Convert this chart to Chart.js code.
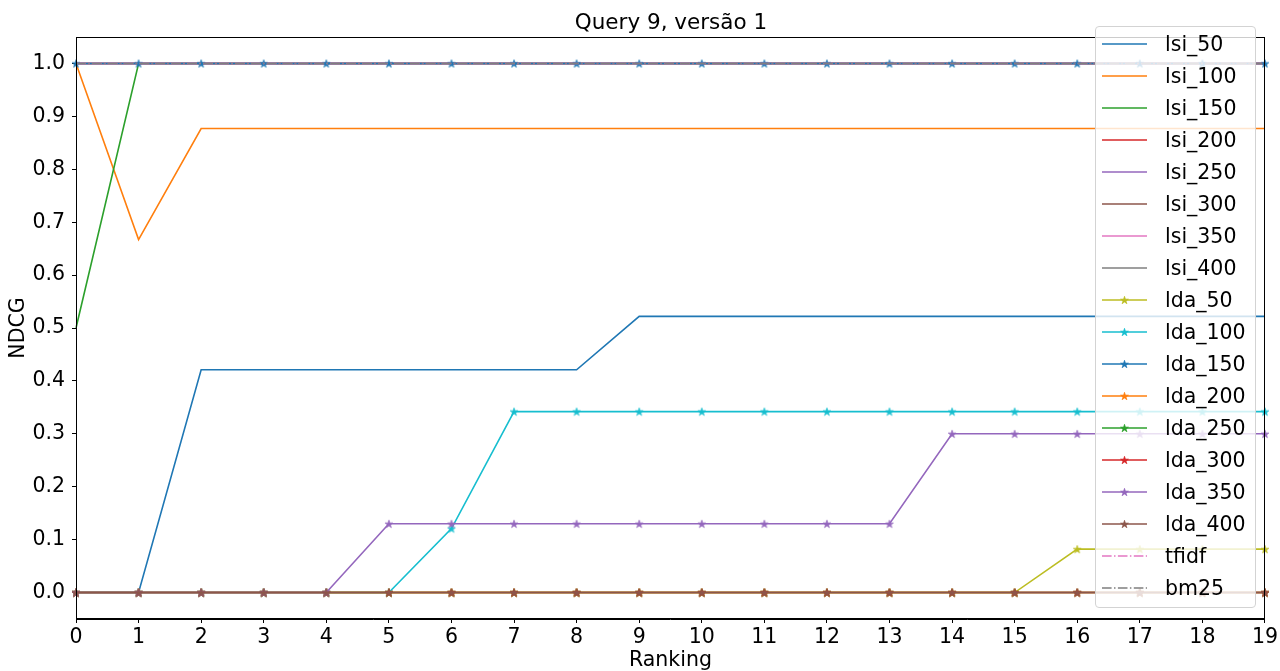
<!DOCTYPE html>
<html>
<head>
<meta charset="utf-8">
<script src="https://cdn.jsdelivr.net/npm/chart.js@4/dist/chart.umd.min.js"></script>
<style>
  html, body { margin: 0; padding: 0; background: #fff; }
  #wrap { position: relative; width: 1280px; height: 671px; overflow: hidden; font-family: "DejaVu Sans", sans-serif; }
  #c { position: absolute; left: 0; top: 0; }
  #title { position: absolute; left: 0; top: 7px; width: 1342px; text-align: center; font-size: 21.5px; line-height: 30px; color: #000; }
  #legend { position: absolute; left: 1095px; top: 26px; width: 161px; height: 582px; box-sizing: border-box;
            border: 1px solid #d3d3d3; border-radius: 4px; background: rgba(255,255,255,0.8); }
  .row { position: absolute; left: 0; width: 160px; height: 32px; }
  .row svg { position: absolute; left: 6px; top: 0; }
  .row span { position: absolute; left: 69px; top: 0; font-size: 20.5px; line-height: 32px; color: #000; white-space: nowrap; }
</style>
</head>
<body>
<div id="wrap">
  <canvas id="c" width="1280" height="671"></canvas>
  <div id="title">Query 9, versão 1</div>
  <div id="legend"></div>
</div>
<script>
// ---- data ----
const ranks = [0,1,2,3,4,5,6,7,8,9,10,11,12,13,14,15,16,17,18,19];
const yTicks = [0.0,0.1,0.2,0.3,0.4,0.5,0.6,0.7,0.8,0.9,1.0];
const seriesNames = ["lsi_50","lsi_100","lsi_150","lsi_200","lsi_250","lsi_300","lsi_350","lsi_400",
                     "lda_50","lda_100","lda_150","lda_200","lda_250","lda_300","lda_350","lda_400","tfidf","bm25"];
const lsi_50  = [0,0,0.421,0.421,0.421,0.421,0.421,0.421,0.421,0.522,0.522,0.522,0.522,0.522,0.522,0.522,0.522,0.522,0.522,0.522];
const lsi_100 = [1.0,0.667,0.877,0.877,0.877,0.877,0.877,0.877,0.877,0.877,0.877,0.877,0.877,0.877,0.877,0.877,0.877,0.877,0.877,0.877];
const lsi_150 = [0.5,1,1,1,1,1,1,1,1,1,1,1,1,1,1,1,1,1,1,1];
const lsi_200 = [1,1,1,1,1,1,1,1,1,1,1,1,1,1,1,1,1,1,1,1];
const lsi_250 = [1,1,1,1,1,1,1,1,1,1,1,1,1,1,1,1,1,1,1,1];
const lsi_300 = [1,1,1,1,1,1,1,1,1,1,1,1,1,1,1,1,1,1,1,1];
const lsi_350 = [1,1,1,1,1,1,1,1,1,1,1,1,1,1,1,1,1,1,1,1];
const lsi_400 = [1,1,1,1,1,1,1,1,1,1,1,1,1,1,1,1,1,1,1,1];
const lda_50  = [0,0,0,0,0,0,0,0,0,0,0,0,0,0,0,0,0.082,0.082,0.082,0.082];
const lda_100 = [0,0,0,0,0,0,0.121,0.342,0.342,0.342,0.342,0.342,0.342,0.342,0.342,0.342,0.342,0.342,0.342,0.342];
const lda_150 = [1,1,1,1,1,1,1,1,1,1,1,1,1,1,1,1,1,1,1,1];
const lda_200 = [0,0,0,0,0,0,0,0,0,0,0,0,0,0,0,0,0,0,0,0];
const lda_250 = [0,0,0,0,0,0,0,0,0,0,0,0,0,0,0,0,0,0,0,0];
const lda_300 = [0,0,0,0,0,0,0,0,0,0,0,0,0,0,0,0,0,0,0,0];
const lda_350 = [0,0,0,0,0,0.130,0.130,0.130,0.130,0.130,0.130,0.130,0.130,0.130,0.300,0.300,0.300,0.300,0.300,0.300];
const lda_400 = [0,0,0,0,0,0,0,0,0,0,0,0,0,0,0,0,0,0,0,0];
const tfidf   = [1,1,1,1,1,1,1,1,1,1,1,1,1,1,1,1,1,1,1,1];
const bm25    = [1,1,1,1,1,1,1,1,1,1,1,1,1,1,1,1,1,1,1,1];

const seriesValues = [lsi_50,lsi_100,lsi_150,lsi_200,lsi_250,lsi_300,lsi_350,lsi_400,
                      lda_50,lda_100,lda_150,lda_200,lda_250,lda_300,lda_350,lda_400,tfidf,bm25];

// ---- styles ----
const C = {blue:"#1f77b4", orange:"#ff7f0e", green:"#2ca02c", red:"#d62728", purple:"#9467bd",
           brown:"#8c564b", pink:"#e377c2", grey:"#7f7f7f", olive:"#bcbd22", cyan:"#17becf"};
const seriesColors = [C.blue,C.orange,C.green,C.red,C.purple,C.brown,C.pink,C.grey,
                      C.olive,C.cyan,C.blue,C.orange,C.green,C.red,C.purple,C.brown,C.pink,C.grey];
const seriesKind = ["line","line","line","line","line","line","line","line",
                    "star","star","star","star","star","star","star","star","dashdot","dashdot"];
const DASHDOT = [9.6, 2.4, 1.5, 2.4];

function starPoints(cx, cy, R) {
  const r = R * 0.382, pts = [];
  for (let i = 0; i < 10; i++) {
    const a = -Math.PI / 2 + i * Math.PI / 5;
    const rad = i % 2 === 0 ? R : r;
    pts.push([cx + rad * Math.cos(a), cy + rad * Math.sin(a)]);
  }
  return pts;
}
function starImage(color) {
  const R = 4.1, s = 10;
  const c = document.createElement('canvas');
  c.width = s; c.height = s;
  const g = c.getContext('2d');
  g.fillStyle = color; g.strokeStyle = color; g.lineWidth = 0.7;
  g.beginPath();
  starPoints(s / 2, s / 2 + 0.4, R).forEach((p, i) => i ? g.lineTo(p[0], p[1]) : g.moveTo(p[0], p[1]));
  g.closePath(); g.fill(); g.stroke();
  return c;
}

const N = seriesNames.length;
const datasets = seriesNames.map((name, i) => {
  const kind = seriesKind[i];
  const ds = {
    label: name,
    data: seriesValues[i],
    borderColor: seriesColors[i],
    backgroundColor: seriesColors[i],
    borderWidth: 1.6,
    tension: 0,
    fill: false,
    order: N - i,
    pointRadius: 0,
    pointHoverRadius: 0
  };
  if (kind === "star") {
    ds.pointStyle = starImage(seriesColors[i]);
    ds.pointRadius = 4;
  }
  if (kind === "dashdot") ds.borderDash = DASHDOT;
  return ds;
});

// frame plugin (matplotlib-style box)
const framePlugin = {
  id: 'frame',
  afterDatasetsDraw(chart) {
    const {ctx, chartArea: a} = chart;
    ctx.save();
    ctx.strokeStyle = '#000';
    ctx.lineWidth = 1;
    ctx.strokeRect(Math.round(a.left) + 0.5, Math.round(a.top) + 0.5, Math.round(a.right - a.left) - 1, Math.round(a.bottom - a.top) - 1);
    ctx.restore();
  }
};

const font20 = {family: "DejaVu Sans", size: 20.5};

new Chart(document.getElementById('c'), {
  type: 'line',
  data: { labels: ranks, datasets },
  options: {
    responsive: false,
    animation: false,
    devicePixelRatio: 1,
    layout: { padding: { top: 37, right: 13, left: 0, bottom: 0 } },
    plugins: { legend: { display: false }, tooltip: { enabled: false }, title: { display: false } },
    events: [],
    scales: {
      x: {
        type: 'category',
        offset: false,
        grid: { display: true, drawOnChartArea: false, drawTicks: true, tickLength: 4, color: '#000', lineWidth: 1 },
        border: { display: true, color: '#000', width: 1 },
        ticks: { font: font20, color: '#000', padding: 2, maxRotation: 0, autoSkip: false },
        title: { display: true, text: 'Ranking', font: font20, color: '#000', padding: { top: 0, bottom: -2 } },
        afterFit(s) { s.height = 52; }
      },
      y: {
        type: 'linear',
        min: -0.05,
        max: 1.05,
        afterBuildTicks(s) { s.ticks = yTicks.map(v => ({ value: v })); },
        grid: { display: true, drawOnChartArea: false, drawTicks: true, tickLength: 4, color: '#000', lineWidth: 1 },
        border: { display: true, color: '#000', width: 1 },
        ticks: { font: font20, color: '#000', padding: 7, callback: v => Number(v).toFixed(1) },
        title: { display: true, text: 'NDCG', font: font20, color: '#000', padding: { top: 6, bottom: 0 } },
        afterFit(s) { s.width = 76; }
      }
    }
  },
  plugins: [framePlugin]
});

// ---- HTML legend ----
const leg = document.getElementById('legend');
seriesNames.forEach((name, i) => {
  const row = document.createElement('div');
  row.className = 'row';
  row.style.top = (1 + 32 * i) + 'px';
  const col = seriesColors[i], kind = seriesKind[i];
  let svg = '<svg width="46" height="32" xmlns="http://www.w3.org/2000/svg">';
  svg += '<line x1="0" y1="16" x2="45" y2="16" stroke="' + col + '" stroke-width="1.6"' +
         (kind === 'dashdot' ? ' stroke-dasharray="' + DASHDOT.join(',') + '"' : '') + '/>';
  if (kind === 'star') {
    const pts = starPoints(22.5, 16.4, 4.1).map(p => p[0].toFixed(2) + ',' + p[1].toFixed(2)).join(' ');
    svg += '<polygon points="' + pts + '" fill="' + col + '" stroke="' + col + '" stroke-width="0.7"/>';
  }
  svg += '</svg>';
  row.innerHTML = svg + '<span>' + name + '</span>';
  leg.appendChild(row);
});
</script>
</body>
</html>
